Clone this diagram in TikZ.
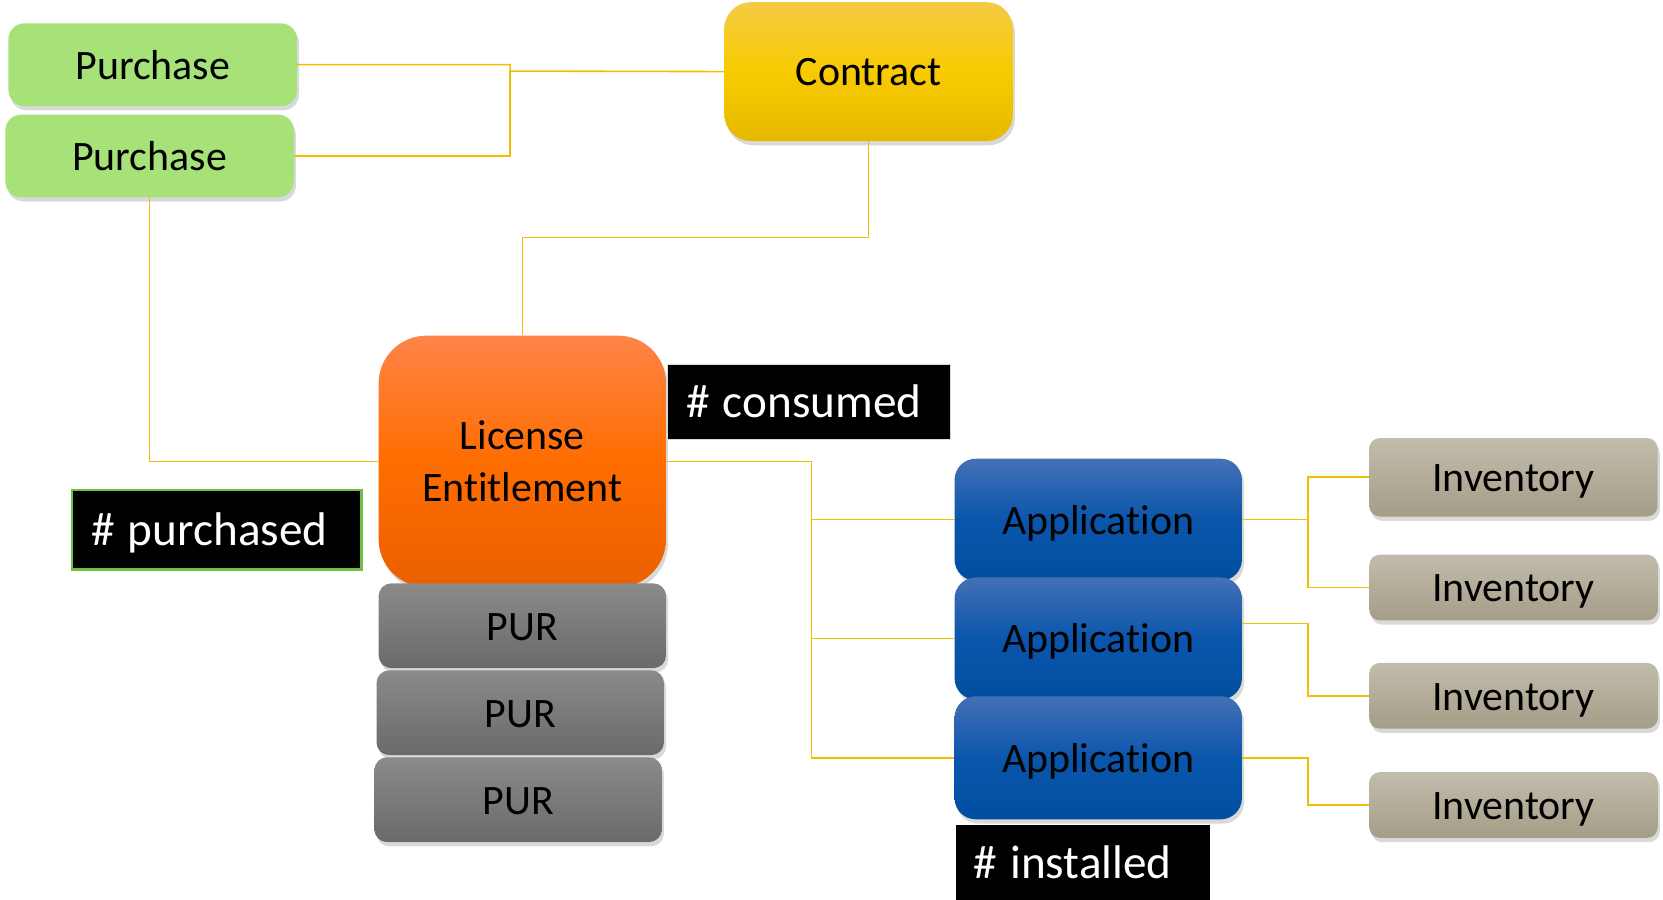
\documentclass[tikz,border=0pt]{standalone}
\usepackage{fontspec}
\setmainfont{Carlito}[Ligatures=NoCommon]
\usetikzlibrary{shadows}
\definecolor{conn}{HTML}{F0C000}
\definecolor{purch}{HTML}{A6E277}
\definecolor{contA}{HTML}{F4CB45}
\definecolor{contB}{HTML}{F8CB00}
\definecolor{contC}{HTML}{E6B800}
\definecolor{licA}{HTML}{FF8448}
\definecolor{licB}{HTML}{FF6D00}
\definecolor{licC}{HTML}{EA6000}
\definecolor{purA}{HTML}{8A8A8A}
\definecolor{purC}{HTML}{6A6A6A}
\definecolor{appA}{HTML}{4470B5}
\definecolor{appB}{HTML}{0A56AC}
\definecolor{appC}{HTML}{004EA0}
\definecolor{invA}{HTML}{C2BCAC}
\definecolor{invC}{HTML}{A49D87}
\definecolor{lblgreen}{HTML}{6CBE45}
\newcommand{\hsh}{\#\hspace{0.28em}}
\begin{document}
\begin{tikzpicture}[x=1pt,y=-1pt,
  box/.style={rounded corners=#1, inner sep=0pt, align=center,
    text height=31pt, text depth=4pt,
    font=\fontsize{39.5}{49}\selectfont,
    drop shadow={shadow xshift=2pt,shadow yshift=-4pt,opacity=0.3}},
  purchbox/.style={box=15pt, fill=purch, minimum width=272pt, minimum height=78pt},
  contbox/.style={box=25pt, top color=contA, bottom color=contC, middle color=contB, minimum width=272pt, minimum height=131pt},
  licbox/.style={box=45pt, top color=licA, bottom color=licC, middle color=licB, minimum width=271pt, minimum height=237pt, text height={}, text depth={}},
  purbox/.style={box=12pt, top color=purA, bottom color=purC, minimum width=271pt, minimum height=80pt},
  appbox/.style={box=20pt, top color=appA, bottom color=appC, middle color=appB, minimum width=271pt, minimum height=115pt},
  invbox/.style={box=10pt, top color=invA, bottom color=invC, minimum width=272pt, minimum height=62pt},
  lbl/.style={fill=black, text=white, inner xsep=18pt, inner ysep=0pt, align=left,
    text height=33pt, text depth=3pt, font=\fontsize{44.5}{52}\selectfont},
  wire/.style={draw=conn, line width=1.5pt}
]
\useasboundingbox (0,0) rectangle (1568,848.56);

\coordinate (j1) at (481,67);
\coordinate (j2) at (819,224);
\coordinate (bus) at (765,714.5);
\coordinate (k1) at (1233,490);
\coordinate (k2) at (1233,656);
\coordinate (k3) at (1233,759);

% boxes
\node[purchbox] (p1) at (144,61) {Purchase};
\node[purchbox] (p2) at (141,147) {Purchase};
\node[contbox] (contract) at (819,67.5) {Contract};
\node[licbox] (lic) at (492.5,435) {License\\Entitlement};
\node[purbox] (pur1) at (492.5,590) {PUR};
\node[purbox] (pur2) at (490.5,672) {PUR};
\node[purbox] (pur3) at (488.5,754) {PUR};
\node[appbox] (app1) at (1035.5,490) {Application};
\node[appbox] (app2) at (1035.5,602) {Application};
\node[appbox, minimum height=116pt] (app3) at (1035.5,714.5) {Application};
\node[invbox, minimum height=74pt] (inv1) at (1427,450) {Inventory};
\node[invbox] (inv2) at (1427,554) {Inventory};
\node[invbox] (inv3) at (1427,656) {Inventory};
\node[invbox] (inv4) at (1427,759) {Inventory};

\node[lbl, draw=black!15, line width=1pt, minimum height=70pt, text width=231pt]
  (consumed) at (762.5,379) {\mbox{\hsh consumed}};
\node[lbl, draw=lblgreen, line width=2.5pt, minimum height=75pt, text width=237pt]
  (purchased) at (204.5,499.5) {\mbox{\hsh purchased}};
\node[lbl, minimum height=71pt, text width=206pt, inner xsep=17pt]
  (installed) at (1021,813.5) {\mbox{\hsh installed}};

% wires
\draw[wire] (p1.east) -| (j1) -- (contract.west);
\draw[wire] (p2.east) -| (j1);
\draw[wire] (contract.south) -- (j2) -| (lic.north);
\draw[wire] (p2.south) |- (lic.west);
\draw[wire] (lic.east) -| (bus) -- (app3.west);
\draw[wire] (app1.west) -- (app1.west -| bus);
\draw[wire] (app2.west) -- (app2.west -| bus);
\draw[wire] (inv1.west) -| (k1) |- (inv2.west);
\draw[wire] (app1.east) -- (k1);
\draw[wire] ([yshift=14pt]app2.east) -| (k2) -- (inv3.west);
\draw[wire] (app3.east) -| (k3) -- (inv4.west);
\end{tikzpicture}
\end{document}
